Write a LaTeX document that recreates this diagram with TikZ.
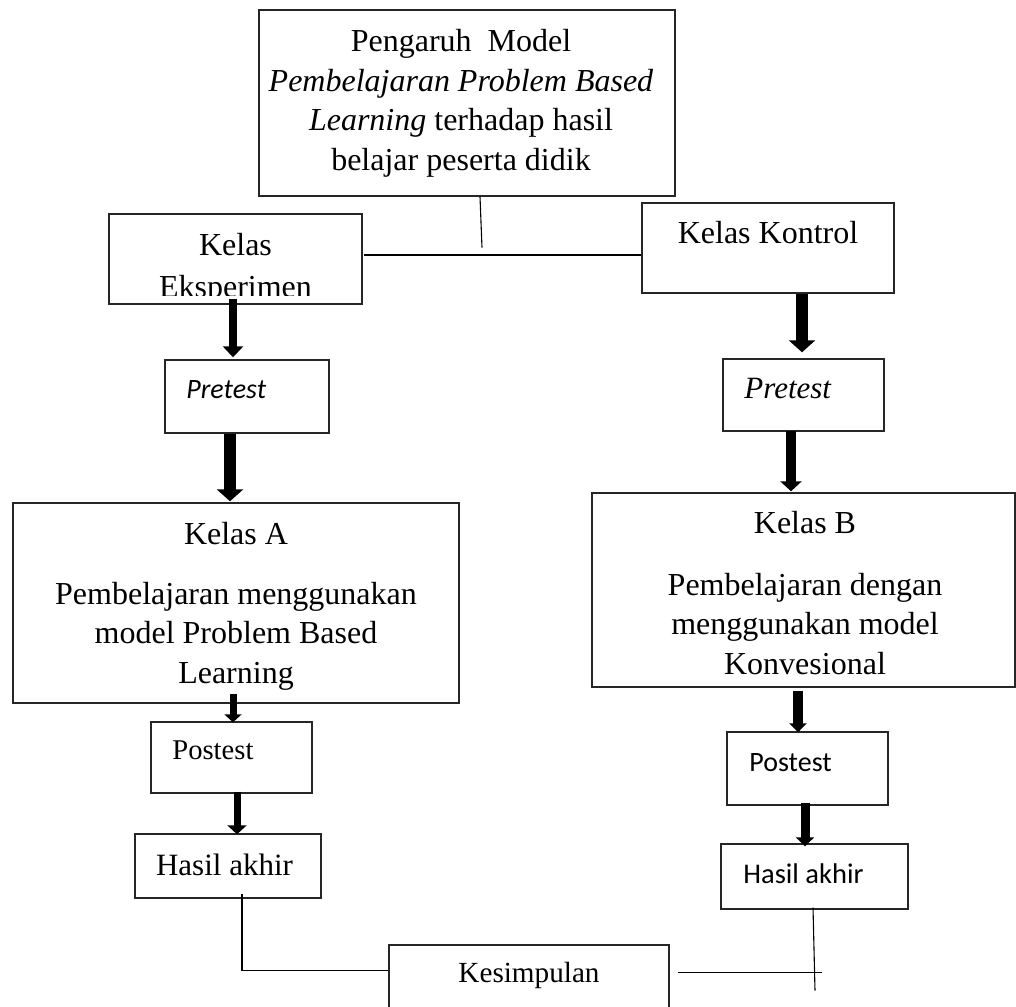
\documentclass[tikz,border=0pt]{standalone}
\usepackage{fontspec}
\setmainfont{Liberation Serif}
\newfontfamily\calib{Carlito}
\usetikzlibrary{arrows.meta,calc,fit}
\begin{document}
\begin{tikzpicture}[x=0.5pt,y=-0.5pt,
  box/.style={draw=black!85, line width=0.7pt, inner sep=0pt},
  txt/.style={inner sep=0pt, anchor=base, align=center, font=\fontsize{16}{19.75}\selectfont},
  conn/.style={line width=0.55pt},
  blk/.style n args={3}{line width=#1, -{Triangle[width=#2,length=#3]}},
]
\clip (0,0) rectangle (1016,1006);
\fill[white] (0,0) rectangle (1016,1006);

% boxes
\node[box, fit={(259,10) (675,196)}] (top) {};
\node[box, fit={(109,214) (362,304)}] (eks) {};
\node[box, fit={(642,203) (894,293)}] (kon) {};
\node[box, fit={(165,360) (329,433)}] (pre1) {};
\node[box, fit={(723,359) (884,431)}] (pre2) {};
\node[box, fit={(13,503) (459,703)}] (kA) {};
\node[box, fit={(592,493) (1015,687)}] (kB) {};
\node[box, fit={(151,722) (312,793)}] (post1) {};
\node[box, fit={(727,732) (888,805)}] (post2) {};
\node[box, fit={(135,834) (321,898)}] (has1) {};
\node[box, fit={(721,844) (908,909)}] (has2) {};
\node[box, fit={(389,945) (669,1040)}] (kes) {};

% texts (multi-line nodes are anchored at the baseline of their last line)
\node[txt] (toptxt) at (461,170) {Pengaruh\ \ Model\\ \textit{Pembelajaran Problem Based}\\ \textit{Learning} terhadap hasil\\ belajar peserta didik};
\begin{scope}
  \clip (eks.north west) rectangle ($(eks.south east)+(0,-9)$);
  \node[txt, font=\fontsize{16}{20.75}\selectfont] (ekstxt) at (235.5,297) {Kelas\\Eksperimen};
\end{scope}
\node[txt] (kontxt) at (768,243) {Kelas Kontrol};
\node[txt, anchor=base west, font=\calib\itshape\fontsize{14}{17}\selectfont] (pre1txt) at (186,398) {Pretest};
\node[txt, anchor=base west, font=\itshape\fontsize{15.5}{18}\selectfont] (pre2txt) at (744,398) {Pretest};
\node[txt] (kAtxt) at (236,683) {Kelas A\\[10.25pt] Pembelajaran menggunakan\\ model Problem Based\\ Learning};
\node[txt] (kBtxt) at (805,674) {Kelas B\\[11.25pt] Pembelajaran dengan\\ menggunakan model\\ Konvesional};
\node[txt, anchor=base west, font=\fontsize{14.3}{17}\selectfont] (post1txt) at (172,759) {Postest};
\node[txt, font=\fontsize{15.5}{18}\selectfont] (has1txt) at (224.5,875) {Hasil akhir};
\node[txt, anchor=base west, font=\calib\fontsize{14}{17}\selectfont] (post2txt) at (749,771) {Postest};
\node[txt, anchor=base west, font=\calib\fontsize{14.25}{17}\selectfont] (has2txt) at (743,883) {Hasil akhir};
\node[txt, font=\fontsize{14.6}{17}\selectfont] (kestxt) at (529,982) {Kesimpulan};

% thick arrows
\draw[blk={4pt}{10pt}{5.5pt}] ($(eks.south)+(-2.5,-6)$) -- ($(pre1.north)+(-14,-2)$);
\draw[blk={6pt}{13pt}{6pt}] ($(pre1.south)+(-17,0)$) -- ($(kA.north)+(-6,-1)$);
\draw[blk={3.5pt}{8.5pt}{4pt}] ($(kA.south)+(-3,-10)$) -- ($(post1.north)+(1.5,1)$);
\draw[blk={3.5pt}{9.5pt}{4.5pt}] ($(post1.south)+(5.5,-2)$) -- ($(has1.north)+(9,1)$);
\draw[blk={6pt}{13pt}{6pt}] ($(kon.south)+(34,0)$) -- ($(pre2.north)+(-1.5,-6)$);
\draw[blk={5pt}{10.5pt}{5pt}] ($(pre2.south)+(-12.5,-1)$) -- ($(kB.north)+(-12.5,-1)$);
\draw[blk={5pt}{8.5pt}{4.5pt}] ($(kB.south)+(-5.5,3)$) -- ($(post2.north)+(-9.5,1)$);
\draw[blk={4.5pt}{9pt}{4.5pt}] ($(post2.south)+(-2.5,-3)$) -- ($(has2.north)+(-9.5,3)$);

% thin connectors
\coordinate (topend) at ($(top.south)+(15,51)$);
\draw[conn] ($(top.south)+(13,0)$) -- (topend);
\draw[conn] ($(eks.east)+(1,-4)$) -- ($(kon.west)+(0,7)$);
\draw[conn] ($(has1.south)+(14,-5)$) |- ($(kes.north west)+(0,26)$);
\coordinate (rightend) at ($(kes.north east)+(152,28)$);
\draw[conn] ($(kes.north east)+(8,28)$) -- (rightend);
\coordinate (has2end) at ($(has2.south)+(0.5,81)$);
\draw[conn] ($(has2.south)+(-1.5,-2)$) -- (has2end);
\end{tikzpicture}
\end{document}
